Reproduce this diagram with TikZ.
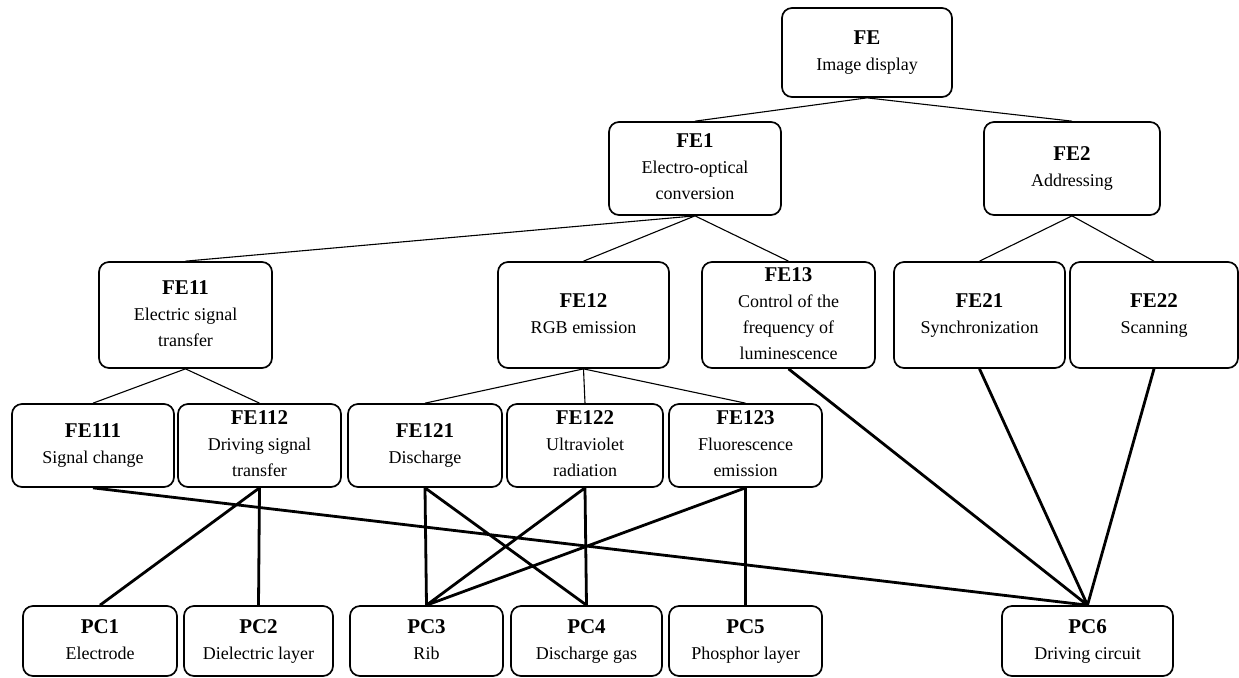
\documentclass[tikz,border=0pt]{standalone}
\usepackage{fontspec}
\setmainfont{Liberation Serif}
\usepackage{tikz}

\newcommand{\fetext}[2]{{\fontsize{10.5}{13}\selectfont\bfseries #1\strut}\\#2\strut}
\tikzset{
    fbox/.style={draw, rounded corners=5pt, line width=0.85pt, align=center,
        inner sep=0pt, font=\fontsize{9}{13}\selectfont},
    row0/.style={fbox, minimum height=44.5pt},
    row1/.style={fbox, minimum height=46.5pt},
    row2/.style={fbox, minimum height=53pt},
    row3/.style={fbox, minimum height=41.5pt},
    row4/.style={fbox, minimum height=35pt},
    tree/.style={line width=0.55pt},
    link/.style={line width=1.4pt}
}

\begin{document}
\begin{tikzpicture}[x=0.5pt, y=-0.5pt]
                        \useasboundingbox (0, 0) rectangle (1239, 677);

                        \node[row0, minimum width=85pt] (fe) at (867, 52.5) {\fetext{FE}{Image display}};

                        \node[row1, minimum width=86pt] (fe1) at (695, 168.5) {\fetext{FE1}{Electro-optical\\conversion}};
                        \node[row1, minimum width=88pt] (fe2) at (1072, 168.5) {\fetext{FE2}{Addressing}};

                        \node[row2, minimum width=86.5pt] (fe11) at (185.5, 315) {\fetext{FE11}{Electric signal\\transfer}};
                        \node[row2, minimum width=85.5pt] (fe12) at (583.5, 315) {\fetext{FE12}{RGB emission}};
                        \node[row2, minimum width=86.5pt] (fe13) at (788.5, 315) {\fetext{FE13}{Control of the\\frequency of\\luminescence}};
                        \node[row2, minimum width=85.5pt] (fe21) at (979.5, 315) {\fetext{FE21}{Synchronization}};
                        \node[row2, minimum width=84pt] (fe22) at (1154, 315) {\fetext{FE22}{Scanning}};

                        \node[row3, minimum width=81pt] (fe111) at (93, 445.5) {\fetext{FE111}{Signal change}};
                        \node[row3, minimum width=81.5pt] (fe112) at (259.5, 445.5) {\fetext{FE112}{Driving signal\\transfer}};
                        \node[row3, minimum width=77pt] (fe121) at (425, 445.5) {\fetext{FE121}{Discharge}};
                        \node[row3, minimum width=78pt] (fe122) at (585, 445.5) {\fetext{FE122}{Ultraviolet\\radiation}};
                        \node[row3, minimum width=76.5pt] (fe123) at (745.5, 445.5) {\fetext{FE123}{Fluorescence\\emission}};

                        \node[row4, minimum width=77pt] (pc1) at (100, 641) {\fetext{PC1}{Electrode}};
                        \node[row4, minimum width=74.5pt] (pc2) at (258.5, 641) {\fetext{PC2}{Dielectric layer}};
                        \node[row4, minimum width=76.5pt] (pc3) at (426.5, 641) {\fetext{PC3}{Rib}};
                        \node[row4, minimum width=75.5pt] (pc4) at (586.5, 641) {\fetext{PC4}{Discharge gas}};
                        \node[row4, minimum width=76.5pt] (pc5) at (745.5, 641) {\fetext{PC5}{Phosphor layer}};
                        \node[row4, minimum width=85.5pt] (pc6) at (1087.5, 641) {\fetext{PC6}{Driving circuit}};

                        \draw[tree]
                        (fe.south) -- (fe1.north)
                        (fe.south) -- (fe2.north)
                        (fe1.south) -- (fe11.north)
                        (fe1.south) -- (fe12.north)
                        (fe1.south) -- (fe13.north)
                        (fe2.south) -- (fe21.north)
                        (fe2.south) -- (fe22.north)
                        (fe11.south) -- (fe111.north)
                        (fe11.south) -- (fe112.north)
                        (fe12.south) -- (fe121.north)
                        (fe12.south) -- (fe122.north)
                        (fe12.south) -- (fe123.north);

                        \draw[link]
                        (fe111.south) -- (pc6.north)
                        (fe112.south) -- (pc1.north)
                        (fe112.south) -- (pc2.north)
                        (fe121.south) -- (pc3.north)
                        (fe121.south) -- (pc4.north)
                        (fe122.south) -- (pc3.north)
                        (fe122.south) -- (pc4.north)
                        (fe123.south) -- (pc3.north)
                        (fe123.south) -- (pc5.north)
                        (fe13.south) -- (pc6.north)
                        (fe21.south) -- (pc6.north)
                        (fe22.south) -- (pc6.north);
                    \end{tikzpicture}
\end{document}
